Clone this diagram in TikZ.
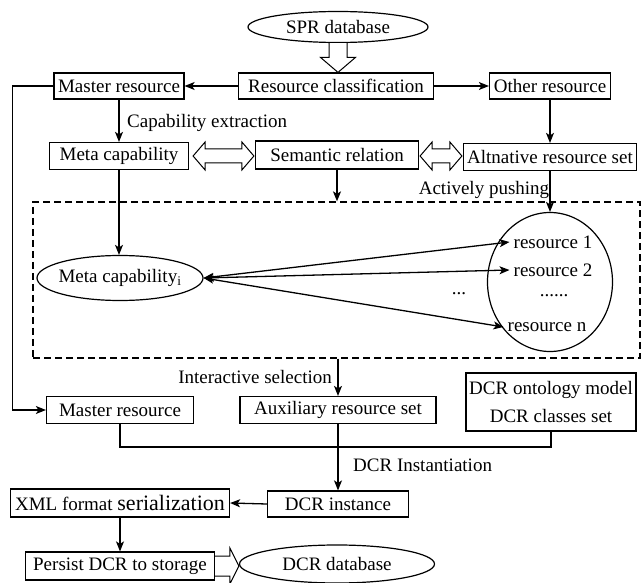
\documentclass[tikz,border=0pt]{standalone}
\usepackage{fontspec}
\setmainfont{Liberation Serif}
\usetikzlibrary{arrows.meta,shapes.geometric,calc}
\begin{document}
\begin{tikzpicture}[x=1pt,y=-1pt,
  every node/.style={font=\fontsize{19}{22}\selectfont},
  box/.style={draw, line width=1.2pt, inner sep=2pt, minimum height=26pt},
  oval/.style={draw, ellipse, line width=1.2pt, inner sep=0pt},
  lbl/.style={inner sep=2pt},
  item/.style={inner sep=4pt},
  conn/.style={line width=1.3pt, -{Stealth[length=10pt,width=8pt,inset=2.5pt]}},
  both/.style={line width=1.3pt, {Stealth[length=10pt,width=8pt,inset=2.5pt]}-{Stealth[length=10pt,width=8pt,inset=2.5pt]}},
  link/.style={line width=1.3pt},
  hollow/.style={draw, fill=white, line width=1pt, line join=miter},
  pool/.style={draw, dash pattern=on 7pt off 4pt, line width=1.3pt}
]
\useasboundingbox (0,0) rectangle (641,583);

% --- top: source database and classification
\node[oval, minimum width=180pt, minimum height=31pt] (spr) at (338,27) {\makebox[0pt]{SPR database}};
\node[box, minimum width=195pt] (rc)  at (336,86) {Resource classification};
\node[box, minimum width=130pt] (mr1) at (119,86) {Master resource};
\node[box, minimum width=121pt] (oth) at (550,86) {Other resource};

% --- capability / relation row
\node[lbl, anchor=west] (capx) at (125,123) {Capability extraction};
\node[box, minimum width=139pt, minimum height=27pt] (mc)  at (119,156) {Meta capability};
\node[box, minimum width=163pt, minimum height=28pt] (sem) at (337,155) {Semantic relation};
\node[box, minimum width=173pt, minimum height=27pt] (alt) at (550,157) {Altnative resource set};
\node[lbl] (push) at (484,190) {Actively pushing};

% --- matching pool
\node[pool, minimum width=607pt, minimum height=156pt] (pool) at (336.5,280) {};
\node[oval, minimum width=166pt, minimum height=45pt] (mci) at (120,278) {\makebox[0pt]{Meta capability\textsubscript{i}}};
\node[oval, minimum width=125pt, minimum height=139pt] (res) at (550,282) {};
\node[item] (r1) at (553,242) {resource 1};
\node[item] (r2) at (553,270) {resource 2};
\node[item, anchor=base] (rdots) at (554,297) {......};
\node[item] (rn) at (547,327) {resource n};
\node[item, anchor=base] (gap) at (459,295) {...};

% --- selection and instantiation
\node[lbl, anchor=east] (isel) at (334,377) {Interactive selection};
\node[box, minimum width=147pt, minimum height=27pt] (mr2) at (120,410) {Master resource};
\node[box, minimum width=196pt, minimum height=27pt] (aux) at (338,410) {Auxiliary resource set};
\node[box, minimum width=170pt, minimum height=58pt, align=center, font=\fontsize{19}{28}\selectfont] (dcrm) at (551,402) {DCR ontology model\\DCR classes set};
\coordinate (merge) at (338,447);
\node[lbl, anchor=west] (inst) at (351,465) {DCR Instantiation};
\node[box, minimum width=141pt] (dcri) at (338,504) {DCR instance};
\node[box, minimum width=219pt, minimum height=28pt] (xml) at (120,503) {XML format {\fontsize{22}{26}\selectfont serialization}};
\node[box, minimum width=189pt, minimum height=28pt] (persist) at (120,566) {Persist DCR to storage};
\node[oval, minimum width=195pt, minimum height=38pt] (dcrdb) at (337,564) {\makebox[0pt]{DCR database}};

% --- hollow arrow: database into classification
\coordinate (t0) at (spr.south);
\coordinate (t1) at (spr.south |- rc.north);
\draw[hollow] (t0) ++(-9,0) -- ($(t1)+(-9,-15)$) -- ($(t1)+(-17.5,-15)$) -- (t1)
  -- ($(t1)+(17.5,-15)$) -- ($(t1)+(9,-15)$) -- ($(t0)+(9,0)$);

% --- hollow double arrows between the capability row boxes
\coordinate (a0) at ($(mc.east)+(4,0)$);
\coordinate (a1) at ($(mc.east -| sem.west)+(-1,0)$);
\draw[hollow] (a0) -- ++(12,-14) -- ++(0,7) -- ($(a1)+(-12,-7)$) -- ++(0,-7) -- (a1)
  -- ++(-12,14) -- ++(0,-7) -- ($(a0)+(12,7)$) -- ++(0,7) -- cycle;
\coordinate (b0) at ($(sem.east |- mc.east)+(1,0)$);
\coordinate (b1) at ($(alt.west |- mc.east)+(-1,0)$);
\draw[hollow] (b0) -- ++(12,-14) -- ++(0,7) -- ($(b1)+(-12,-7)$) -- ++(0,-7) -- (b1)
  -- ++(-12,14) -- ++(0,-7) -- ($(b0)+(12,7)$) -- ++(0,7) -- cycle;

% --- hollow arrow: storage into database
\coordinate (s0) at (persist.east);
\coordinate (s1) at (persist.east -| dcrdb.west);
\draw[hollow] ($(s0)+(0,-10)$) -- ($(s1)+(-9,-10)$) -- ($(s1)+(-9,-18)$) -- (s1)
  -- ($(s1)+(-9,18)$) -- ($(s1)+(-9,10)$) -- ($(s0)+(0,10)$);

% --- connectors
\draw[conn] (rc.west) -- (mr1.east);
\draw[conn] (rc.east) -- (oth.west);
\draw[conn] (mr1.south) -- (mc.north);
\draw[conn] (oth.south) -- (alt.north);
\draw[conn] (sem.south) -- (sem.south |- pool.north);
\draw[conn] (alt.south) -- (res.north);
\draw[conn] (mc.south) -- (mc.south |- mci.north);
\draw[both] (mci.east) -- (r1.west);
\draw[both] (mci.east) -- (r2.west);
\draw[both] (mci.east) -- (rn.west);
\draw[conn] (aux.north |- pool.south) -- (aux.north);
\draw[conn] (mr1.west) -- ++(-41,0) |- (mr2.west);
\draw[link] (mr2.south) |- (merge) -| (dcrm.south);
\draw[conn] (aux.south) -- (dcri.north);
\draw[conn] (dcri.west) -- (xml.east);
\draw[conn] (xml.south) -- (persist.north);
\end{tikzpicture}
\end{document}
